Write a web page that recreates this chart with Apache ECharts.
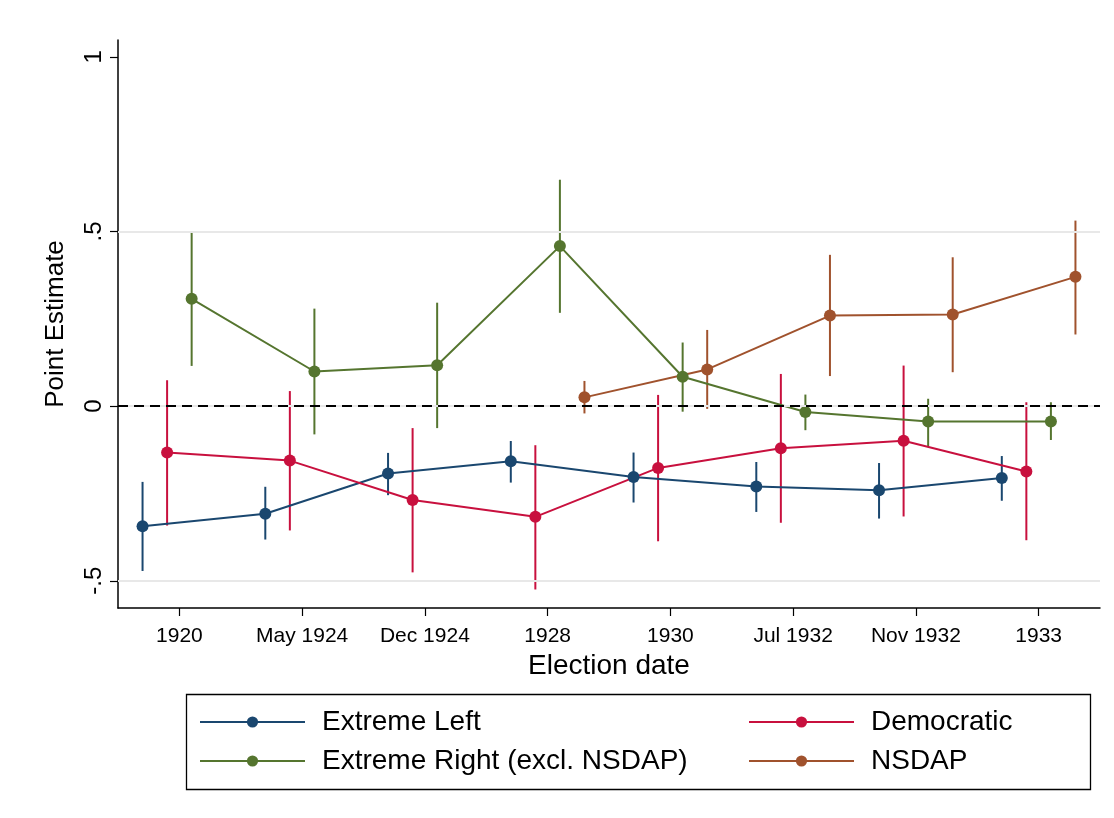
<!DOCTYPE html>
<html>
<head>
<meta charset="utf-8">
<script src="https://cdn.jsdelivr.net/npm/echarts@6/dist/echarts.min.js"></script>
<style>
html,body{margin:0;padding:0;background:#fff;}
#chart{width:1114px;height:818px;}
</style>
</head>
<body>
<div id="chart"></div>
<script>
// ---- data ----
const categories = ['1920', 'May 1924', 'Dec 1924', '1928', '1930', 'Jul 1932', 'Nov 1932', '1933'];
const seriesNames = ['Extreme Left', 'Democratic', 'Extreme Right (excl. NSDAP)', 'NSDAP'];

const leftEst = [-0.344, -0.308, -0.193, -0.158, -0.203, -0.230, -0.241, -0.206];
const leftLo  = [-0.472, -0.382, -0.255, -0.219, -0.276, -0.303, -0.322, -0.271];
const leftHi  = [-0.217, -0.231, -0.134, -0.100, -0.133, -0.160, -0.163, -0.143];

const demEst = [-0.133, -0.156, -0.269, -0.317, -0.177, -0.121, -0.099, -0.187];
const demLo  = [-0.342, -0.356, -0.476, -0.525, -0.387, -0.334, -0.316, -0.384];
const demHi  = [0.074, 0.043, -0.063, -0.112, 0.032, 0.092, 0.116, 0.011];

const rightEst = [0.307, 0.099, 0.117, 0.458, 0.084, -0.017, -0.044, -0.044];
const rightLo  = [0.115, -0.081, -0.063, 0.267, -0.016, -0.069, -0.115, -0.097];
const rightHi  = [0.497, 0.279, 0.296, 0.648, 0.182, 0.033, 0.021, 0.011];

const nsdapEst = [null, null, null, 0.025, 0.105, 0.259, 0.262, 0.370];
const nsdapLo  = [null, null, null, -0.021, -0.008, 0.086, 0.097, 0.205];
const nsdapHi  = [null, null, null, 0.072, 0.218, 0.433, 0.426, 0.531];

const yTicks = [-0.5, 0, 0.5, 1];
const yGridValues = [-0.5, 0, 0.5];
const refLineValue = 0;

// ---- styling / layout ----
const colors = ['#1a476f', '#c8103e', '#55752f', '#a0522d'];
const dodge = [-0.3, -0.1, 0.1, 0.3];
const FONT = '"Liberation Sans", Arial, Helvetica, sans-serif';
const groups = [
  [leftEst, leftLo, leftHi],
  [demEst, demLo, demHi],
  [rightEst, rightLo, rightHi],
  [nsdapEst, nsdapLo, nsdapHi]
];
const catPos = categories.map((c, i) => i + 1);

const series = [];
groups.forEach((g, s) => {
  const [est, lo, hi] = g;
  const ciData = [];
  const ptData = [];
  est.forEach((v, i) => {
    if (v === null) return;
    const x = catPos[i] + dodge[s];
    ciData.push([x, lo[i], hi[i]]);
    ptData.push([x, v]);
  });
  series.push({
    name: seriesNames[s] + ' CI',
    type: 'custom',
    z: 2,
    silent: true,
    encode: { x: 0, y: [1, 2] },
    data: ciData,
    renderItem: (params, api) => {
      const x = api.value(0);
      const p1 = api.coord([x, api.value(1)]);
      const p2 = api.coord([x, api.value(2)]);
      return {
        type: 'line',
        shape: { x1: p1[0], y1: p1[1], x2: p2[0], y2: p2[1] },
        style: { stroke: colors[s], lineWidth: 2 }
      };
    }
  });
  series.push({
    name: seriesNames[s],
    type: 'line',
    z: 3,
    data: ptData,
    symbol: 'circle',
    symbolSize: 12,
    showSymbol: true,
    itemStyle: { color: colors[s] },
    lineStyle: { color: colors[s], width: 2 },
    emphasis: { disabled: true }
  });
});

// gridlines and reference line via markLine on a helper series
series.push({
  name: 'grid',
  type: 'line',
  data: [],
  z: 1,
  silent: true,
  markLine: {
    silent: true,
    symbol: 'none',
    label: { show: false },
    animation: false,
    data: yGridValues.map(v => ({ yAxis: v, lineStyle: { color: '#e8e8e8', width: 2, type: 'solid' } }))
      .concat([{ yAxis: refLineValue, lineStyle: { color: '#000', width: 2, type: [10, 6] } }])
  }
});

const legendText = { fontSize: 28, color: '#000', fontFamily: FONT, lineHeight: 30, padding: [0, 0, 0, 12] };

const chart = echarts.init(document.getElementById('chart'), null, { renderer: 'canvas' });
chart.setOption({
  animation: false,
  backgroundColor: '#ffffff',
  textStyle: { fontFamily: FONT, color: '#000' },
  grid: { left: 118, right: 14, top: 40, bottom: 210, containLabel: false },
  xAxis: {
    type: 'value',
    min: 0.5,
    max: 8.5,
    name: 'Election date',
    nameLocation: 'middle',
    nameGap: 34,
    nameTextStyle: { fontSize: 28, color: '#000', fontFamily: FONT },
    axisLine: { show: true, onZero: false, lineStyle: { color: '#000', width: 1.5 } },
    axisTick: { show: true, length: 8, customValues: catPos, lineStyle: { color: '#000', width: 1.2 } },
    axisLabel: {
      customValues: catPos,
      margin: 18,
      fontSize: 21,
      color: '#000',
      fontFamily: FONT,
      formatter: v => categories[Math.round(v) - 1]
    },
    splitLine: { show: false }
  },
  yAxis: {
    type: 'value',
    min: -0.578,
    max: 1.048,
    name: 'Point Estimate',
    nameLocation: 'middle',
    nameGap: 49,
    nameTextStyle: { fontSize: 26, color: '#000', fontFamily: FONT },
    axisLine: { show: true, lineStyle: { color: '#000', width: 1.5 } },
    axisTick: { show: true, length: 8, customValues: yTicks, lineStyle: { color: '#000', width: 1.2 } },
    axisLabel: {
      customValues: yTicks,
      rotate: 90,
      margin: 12,
      fontSize: 24,
      color: '#000',
      fontFamily: FONT,
      formatter: v => String(v).replace('0.', '.')
    },
    splitLine: { show: false }
  },
  legend: [
    {
      data: [seriesNames[0], seriesNames[2]],
      orient: 'vertical',
      left: 199,
      top: 707,
      padding: 0,
      itemWidth: 105,
      itemHeight: 14,
      itemGap: 9,
      selectedMode: false,
      textStyle: legendText
    },
    {
      data: [seriesNames[1], seriesNames[3]],
      orient: 'vertical',
      left: 748,
      top: 707,
      padding: 0,
      itemWidth: 105,
      itemHeight: 14,
      itemGap: 9,
      selectedMode: false,
      textStyle: legendText
    }
  ],
  graphic: [
    {
      type: 'rect',
      left: 184,
      top: 692,
      shape: { width: 904, height: 95 },
      style: { fill: 'none', stroke: '#000', lineWidth: 1.3 },
      silent: true
    }
  ],
  series: series
});
</script>
</body>
</html>
